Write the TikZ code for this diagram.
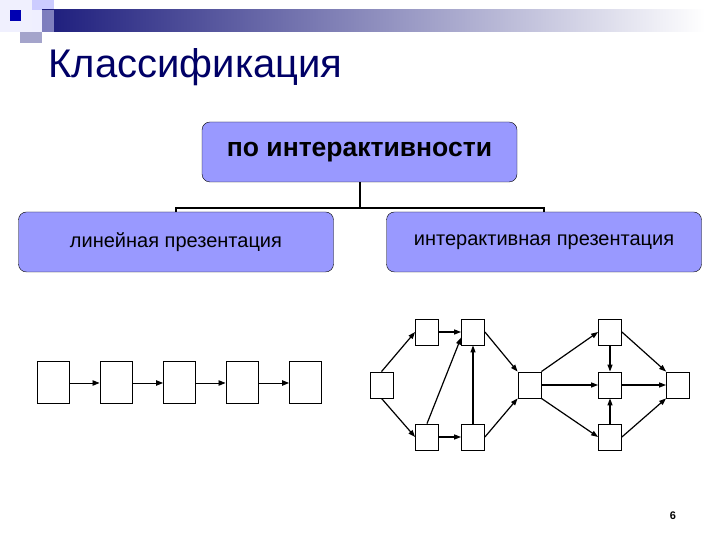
\documentclass[tikz,border=0pt]{standalone}
\usepackage{fontspec}
\setmainfont{Liberation Sans}
\usetikzlibrary{arrows.meta}
\definecolor{titleblue}{RGB}{0,0,102}
\definecolor{boxfill}{RGB}{153,153,255}
\definecolor{barblue}{RGB}{28,28,124}
\begin{document}
\begin{tikzpicture}[x=1pt,y=1pt,
    catbox/.style={draw=black, fill=boxfill, rounded corners=8pt, minimum width=315pt, minimum height=60pt, inner sep=0pt},
    pagebox/.style={draw=black, line width=1pt, fill=white, minimum width=32pt, minimum height=42pt, inner sep=0pt},
    slidebox/.style={draw=black, line width=0.8pt, fill=white, minimum width=23pt, minimum height=26pt, inner sep=0pt},
    link/.style={-{Triangle[length=7pt,width=5pt]}, line width=1.2pt},
    chain/.style={-{Triangle[length=7pt,width=5.5pt]}, line width=0.9pt}]
    \useasboundingbox (0,0) rectangle (720,540);

    % header decoration
    \fill[black!8!blue!6] (0,508) rectangle (32,540);
    \fill[blue!20!white] (32,530) rectangle (54,540);
    \shade[left color=barblue, right color=white] (42,508) rectangle (705,530);
    \fill[blue!12!white, opacity=0.5] (32,508) rectangle (54,530);
    \fill[barblue!40!white] (20,497) rectangle (42,508);
    \fill[blue!70!black] (10,519) rectangle (21,530);

    \node[anchor=base west, text=titleblue, font=\fontsize{40}{48}\selectfont] (title) at (45,462) {Классификация};

    % classification tree
    \node[catbox, font=\fontsize{26.5}{30}\selectfont\bfseries] (top) at (359.5,388) {по интерактивности};
    \node[catbox, font=\fontsize{20}{24}\selectfont] (linear) at (176,298) {линейная презентация};
    \node[catbox, font=\fontsize{20}{24}\selectfont] (inter) at (544,298) {интерактивная презентация};
    \coordinate (split) at (359.5,332);
    \draw[line width=2pt] (top.south) -- (split);
    \draw[line width=2pt] (linear.north) |- (split) -| (inter.north);

    % linear presentation
    \foreach \n/\x in {1/53, 2/116, 3/179.5, 4/242, 5/305.5}
        \node[pagebox] (p\n) at (\x,157) {};
    \foreach \a/\b in {1/2, 2/3, 3/4, 4/5}
        \draw[chain] (p\a.east) -- (p\b.west);

    % interactive presentation
    \node[slidebox] (A) at (381.5,155) {};
    \node[slidebox] (B) at (427,208) {};
    \node[slidebox] (C) at (473,208) {};
    \node[slidebox] (D) at (427,103) {};
    \node[slidebox] (E) at (473,103) {};
    \node[slidebox] (F) at (529.5,155) {};
    \node[slidebox] (G) at (610,208) {};
    \node[slidebox] (H) at (610,155) {};
    \node[slidebox] (I) at (610,103) {};
    \node[slidebox] (J) at (678,155) {};

    \draw[link] (A.north) -- (B.west);
    \draw[link] (A.south) -- (D.west);
    \draw[link] (B.east) -- (C.west);
    \draw[link] (D.east) -- (E.west);
    \draw[link] (D.north) -- (C.205);
    \draw[link] (E.north) -- (C.south);
    \draw[link] (C.east) -- (F.north west);
    \draw[link] (E.east) -- (F.south west);
    \draw[link] (F.north east) -- (G.west);
    \draw[link] (F.east) -- (H.west);
    \draw[link] (F.south east) -- (I.west);
    \draw[link] (G.south) -- (H.north);
    \draw[link] (I.north) -- (H.south);
    \draw[link] (G.east) -- (J.north west);
    \draw[link] (H.east) -- (J.west);
    \draw[link] (I.east) -- (J.south west);

    \node[font=\fontsize{11}{13}\selectfont\bfseries] (pagenum) at (673,24) {6};
\end{tikzpicture}
\end{document}
